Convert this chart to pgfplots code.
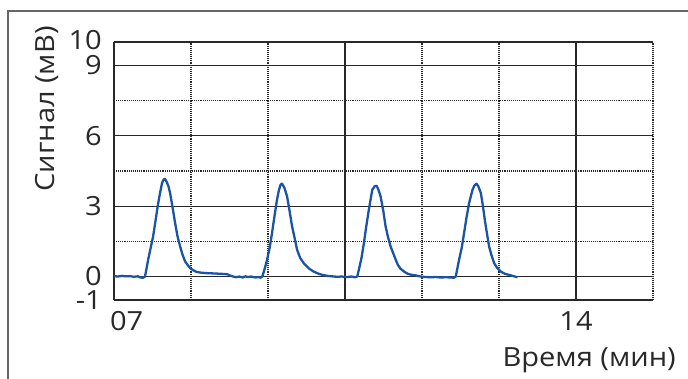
\documentclass[border=0pt]{standalone}
\usepackage{fontspec}
\setmainfont{Open Sans}[FakeStretch=1.1]
\usepackage{pgfplots}
\pgfplotsset{compat=1.18}
\definecolor{curveblue}{RGB}{26,84,164}
\definecolor{txt}{RGB}{40,40,40}
\definecolor{gridc}{RGB}{40,40,40}
\begin{document}
\begin{tikzpicture}[x=1bp,y=1bp]
\path[use as bounding box] (0,0) rectangle (688,378);
\draw[line width=1.6bp, black!60] (8,-5) -- (8,367) -- (693,367);
\begin{axis}[
  at={(114bp,78bp)}, anchor=south west,
  scale only axis, width=539bp, height=258bp,
  xmin=7, xmax=15.1667, ymin=-1, ymax=10,
  xtick={7,14}, xticklabels={{\makebox[0pt][l]{\hspace{-4bp}07}},14},
  ytick={-1,0,3,6,9,10}, yticklabels={{\raisebox{-6bp}{-1}},{\raisebox{1bp}{0}},3,6,{\raisebox{-2bp}{9}},{\raisebox{4bp}{10}}},
  extra x ticks={10.5}, extra x tick labels={},
  minor xtick={8.1667,9.3333,11.6667,12.8333,15.1667},
  minor ytick={1.5,4.5,7.5},
  grid=both,
  major grid style={gridc, line width=1.1bp},
  minor grid style={gridc, line width=1.2bp, dash pattern=on 1bp off 0.9bp},
  major tick length=0pt, minor tick length=0pt,
  axis line style={draw=none},
  /pgf/number format/assume math mode=true,
  tick label style={font=\fontsize{26.5}{30}\selectfont, text=txt, inner sep=0pt},
  yticklabel style={anchor=east, xshift=-12bp},
  xticklabel style={anchor=north, yshift=-11bp},
  xlabel={Время (мин)},
  xlabel style={at={(rel axis cs:1.0427,-0.2585)}, anchor=base east, inner sep=0pt, font=\fontsize{26.5}{30}\selectfont, text=txt},
  ylabel={Сигнал (мВ)},
  ylabel style={at={(rel axis cs:-0.1113,0.4198)}, anchor=base west, inner sep=0pt, font=\fontsize{26.5}{30}\selectfont, text=txt},
]
\addplot[color=curveblue, line width=2.3bp, line join=round, mark=none] coordinates {
(7.000,0.02) (7.06,0.00) (7.12,0.03) (7.18,0.01) (7.24,0.02) (7.30,-0.01) (7.36,0.01) (7.40,-0.04) (7.44,-0.05) (7.47,0.00)
(7.50,0.45) (7.516,0.70) (7.55,1.15) (7.592,1.70) (7.63,2.40) (7.668,3.10) (7.70,3.60) (7.729,4.00) (7.755,4.15) (7.774,4.16)
(7.80,4.02) (7.825,3.85) (7.850,3.56) (7.89,2.90) (7.926,2.28) (7.96,1.75) (8.002,1.28) (8.04,0.92) (8.078,0.64) (8.12,0.48)
(8.154,0.36) (8.20,0.27) (8.25,0.20) (8.306,0.17) (8.38,0.15) (8.45,0.14) (8.53,0.13) (8.60,0.12) (8.66,0.11) (8.716,0.10)
(8.76,0.04) (8.807,0.00) (8.85,-0.03) (8.90,0.00) (8.95,-0.04) (8.989,0.01) (9.03,-0.02) (9.08,0.00) (9.141,-0.04) (9.19,-0.02) (9.22,-0.05)
(9.247,0.00) (9.28,0.30) (9.319,0.71) (9.36,1.25) (9.394,1.85) (9.43,2.55) (9.470,3.28) (9.50,3.70) (9.525,3.92) (9.546,3.96)
(9.58,3.80) (9.622,3.42) (9.66,2.80) (9.698,2.14) (9.74,1.60) (9.774,1.14) (9.82,0.80) (9.874,0.57) (9.95,0.35) (10.026,0.21)
(10.10,0.12) (10.16,0.07) (10.230,0.03) (10.30,0.01) (10.38,-0.01) (10.45,0.00) (10.533,-0.02) (10.60,0.00) (10.65,-0.03)
(10.685,0.00) (10.709,0.28) (10.75,0.80) (10.785,1.40) (10.82,2.10) (10.861,2.85) (10.913,3.70) (10.95,3.85) (10.978,3.87)
(11.00,3.75) (11.039,3.42) (11.08,2.80) (11.115,2.14) (11.15,1.70) (11.191,1.28) (11.25,0.85) (11.30,0.50) (11.343,0.33)
(11.40,0.20) (11.449,0.12) (11.50,0.08) (11.570,0.05) (11.646,0.00) (11.72,-0.02) (11.80,-0.03) (11.874,-0.02) (11.95,-0.04)
(12.03,-0.03) (12.102,-0.04) (12.15,-0.05)
(12.178,0.00) (12.228,0.71) (12.27,1.25) (12.304,1.85) (12.34,2.50) (12.380,3.13) (12.432,3.70) (12.46,3.88) (12.492,3.96)
(12.52,3.85) (12.558,3.56) (12.59,3.00) (12.618,2.42) (12.65,1.85) (12.683,1.28) (12.72,0.90) (12.759,0.57) (12.81,0.35)
(12.861,0.21) (12.92,0.12) (12.987,0.07) (13.05,0.02) (13.115,-0.03)
};
\end{axis}
\end{tikzpicture}
\end{document}
